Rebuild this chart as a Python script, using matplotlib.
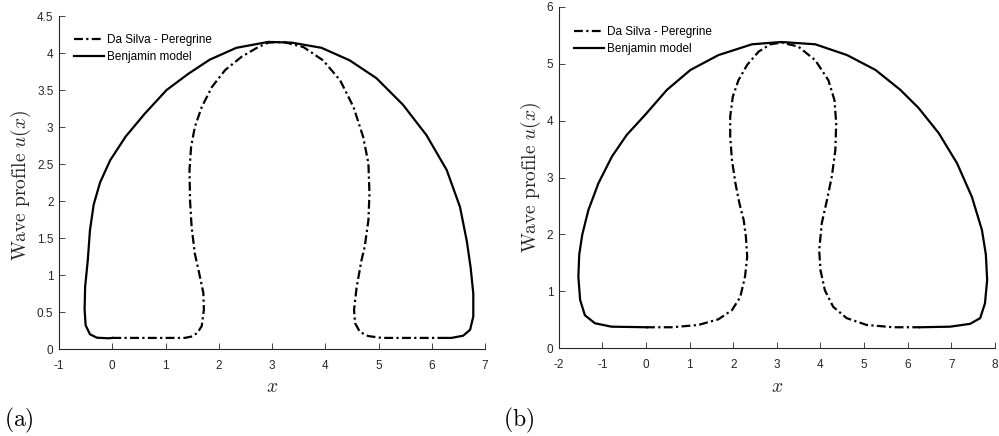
import numpy as np
import matplotlib
matplotlib.use("Agg")
import matplotlib.pyplot as plt

#######################
#   DATA
#######################

# panel (a)
xa_dsp = [0.0, 1.36, 1.50, 1.60, 1.68, 1.72, 1.71, 1.63, 1.55, 1.49, 1.46, 1.45, 1.48, 1.55,
          1.68, 1.87, 2.12, 2.43, 2.74, 2.93, 3.21, 3.59, 3.96, 4.28, 4.53, 4.71, 4.81, 4.83,
          4.81, 4.74, 4.68, 4.59, 4.54, 4.56, 4.65, 4.81, 5.06, 6.30]
ua_dsp = [0.15, 0.15, 0.17, 0.22, 0.31, 0.53, 0.76, 1.03, 1.29, 1.65, 2.01, 2.42, 2.73, 3.00,
          3.27, 3.54, 3.77, 3.95, 4.08, 4.14, 4.15, 4.08, 3.90, 3.63, 3.27, 2.87, 2.51, 2.10,
          1.74, 1.38, 1.20, 0.84, 0.53, 0.35, 0.23, 0.175, 0.15, 0.15]

xa_ben = [0.0, -0.07, -0.29, -0.42, -0.50, -0.52, -0.51, -0.46, -0.42, -0.35, -0.23, -0.04,
          0.25, 0.61, 1.02, 1.43, 1.83, 2.33, 2.93, 3.37, 3.93, 4.46, 4.96, 5.46, 5.90, 6.28,
          6.53, 6.66, 6.73, 6.78, 6.78, 6.72, 6.59, 6.37, 6.28]
ua_ben = [0.15, 0.145, 0.153, 0.20, 0.32, 0.53, 0.84, 1.20, 1.60, 1.95, 2.25, 2.55,
          2.87, 3.18, 3.50, 3.72, 3.91, 4.07, 4.15, 4.14, 4.07, 3.90, 3.66, 3.30, 2.89, 2.42,
          1.92, 1.45, 1.10, 0.75, 0.44, 0.26, 0.18, 0.15, 0.15]

# panel (b)
xb_dsp = [0.0, 0.59, 1.20, 1.66, 1.97, 2.16, 2.27, 2.32, 2.29, 2.24, 2.14, 2.05, 1.97,
          1.93, 1.93, 1.99, 2.12, 2.32, 2.58, 2.85, 3.11, 3.49, 3.88, 4.18, 4.32, 4.36, 4.34,
          4.26, 4.15, 4.03, 3.97, 4.00, 4.10, 4.29, 4.60, 5.06, 5.67, 6.28]
ub_dsp = [0.37, 0.37, 0.41, 0.51, 0.67, 0.90, 1.26, 1.61, 1.96, 2.25, 2.55, 2.90, 3.31,
          3.72, 4.07, 4.42, 4.71, 4.98, 5.21, 5.34, 5.37, 5.30, 5.06, 4.71, 4.36, 3.95, 3.48,
          3.02, 2.61, 2.20, 1.72, 1.37, 1.02, 0.73, 0.53, 0.41, 0.37, 0.37]

xb_ben = [0.02, -0.79, -1.17, -1.40, -1.51, -1.55, -1.53, -1.46, -1.32, -1.09, -0.78, -0.44,
          -0.02, 0.48, 1.02, 1.66, 2.43, 2.92, 3.11, 3.88, 4.61, 5.26, 5.83, 6.25, 6.71, 7.13,
          7.47, 7.70, 7.79, 7.82, 7.77, 7.66, 7.43, 6.97, 6.28]
ub_ben = [0.37, 0.38, 0.44, 0.58, 0.85, 1.26, 1.65, 2.00, 2.43, 2.90, 3.37, 3.75,
          4.10, 4.54, 4.89, 5.15, 5.34, 5.37, 5.38, 5.34, 5.15, 4.89, 4.54, 4.22, 3.78, 3.25,
          2.66, 2.08, 1.65, 1.20, 0.79, 0.53, 0.43, 0.38, 0.37]

xticks_a = np.arange(-1, 8, 1)
yticks_a = np.arange(0, 4.51, 0.5)
xticks_b = np.arange(-2, 9, 1)
yticks_b = np.arange(0, 6.1, 1)

#######################
#   PLOT
#######################

plt.rcParams['font.family'] = ['Liberation Sans', 'DejaVu Sans']
plt.rcParams['mathtext.fontset'] = 'cm'
grey = (0.15, 0.15, 0.15)
dashdot = (0, (4, 1.5, 1, 1.5))

fig = plt.figure(figsize=(9.99, 4.36), dpi=100)
ax_a = fig.add_axes([0.0591, 0.1995, 0.4264, 0.7638])
ax_b = fig.add_axes([0.5593, 0.2011, 0.4367, 0.7835])

panels = [
    (ax_a, xa_dsp, ua_dsp, xa_ben, ua_ben, xticks_a, yticks_a, (-1, 7), (0, 4.5), '(a)', 0.004, 0.947),
    (ax_b, xb_dsp, ub_dsp, xb_ben, ub_ben, xticks_b, yticks_b, (-2, 8), (0, 6), '(b)', 0.504, 0.943),
]

for ax, xd, ud, xbn, ubn, xt, yt, xl, yl, tag, tx, ly in panels:
    ax.plot(xbn, ubn, color='black', lw=1.6, label='Benjamin model', zorder=2,
            solid_joinstyle='round')
    ax.plot(xd, ud, color='black', lw=1.6, ls=dashdot, label='Da Silva - Peregrine', zorder=3)
    ax.set_xlim(xl)
    ax.set_ylim(yl)
    ax.set_xticks(xt)
    ax.set_yticks(yt)
    ax.set_xticklabels([('%g' % v) for v in xt])
    ax.set_yticklabels([('%g' % v) for v in yt])
    for s in ['top', 'right']:
        ax.spines[s].set_visible(False)
    for s in ['left', 'bottom']:
        ax.spines[s].set_color(grey)
        ax.spines[s].set_linewidth(0.8)
    ax.tick_params(direction='in', length=4, width=0.6, colors=grey, labelsize=8.5)
    ax.tick_params(axis='x', pad=8)
    ax.tick_params(axis='y', pad=4)
    ax.set_xlabel(r'$x$', fontsize=14, color=grey)
    ax.set_ylabel(r'$\mathrm{Wave\ profile}\ u(x)$', fontsize=14, color=grey)
    handles, labels = ax.get_legend_handles_labels()
    ax.legend(handles[::-1], labels[::-1], loc='upper left', bbox_to_anchor=(0.035, ly),
              frameon=False, fontsize=8.5, handlelength=2.55, handletextpad=0.25,
              labelspacing=0.45, borderaxespad=0, borderpad=0)
    fig.text(tx, 1 - 420 / 436, r'$\mathrm{%s}$' % tag, fontsize=17, va='center', ha='left')

ax_a.xaxis.set_label_coords(0.5, -0.09)
ax_a.yaxis.set_label_coords(-0.062, 0.49)
ax_b.xaxis.set_label_coords(0.5, -0.09)
ax_b.yaxis.set_label_coords(-0.035, 0.5)

plt.savefig('out.png', dpi=100)
